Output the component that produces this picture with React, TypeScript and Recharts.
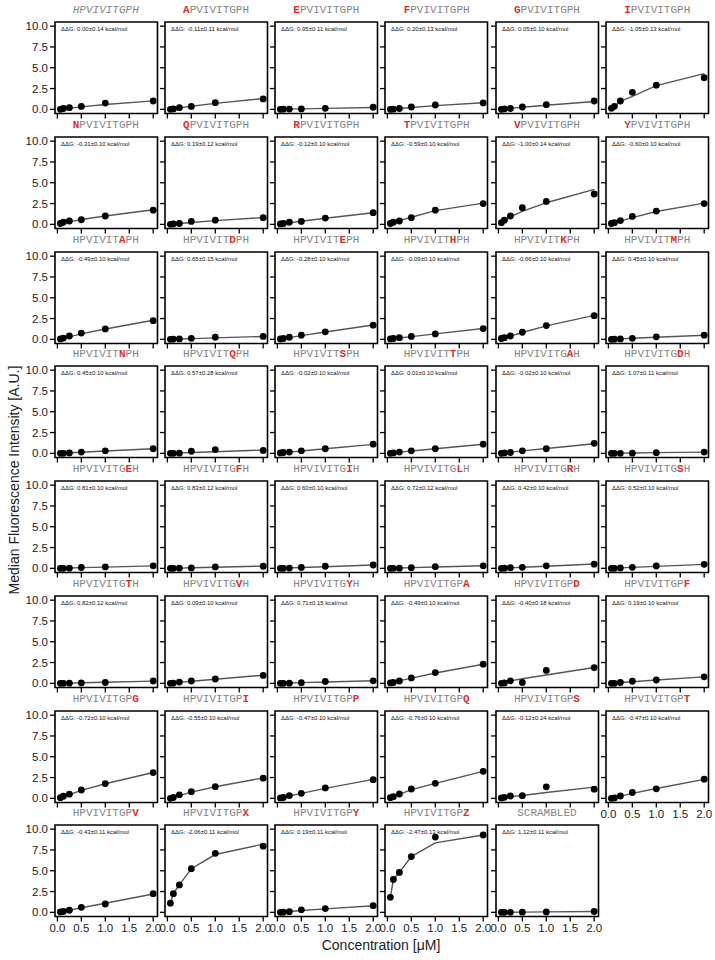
import React from 'react';
import { ComposedChart, Line, XAxis, YAxis, ReferenceArea } from 'recharts';

const concentrations = [0.0625, 0.125, 0.25, 0.5, 1, 2];
const xTicks = [0, 0.5, 1, 1.5, 2];
const yTicks = [0, 2.5, 5, 7.5, 10];

const sequences = [
  'HPVIVITGPH', 'APVIVITGPH', 'EPVIVITGPH', 'FPVIVITGPH', 'GPVIVITGPH', 'IPVIVITGPH',
  'NPVIVITGPH', 'QPVIVITGPH', 'RPVIVITGPH', 'TPVIVITGPH', 'VPVIVITGPH', 'YPVIVITGPH',
  'HPVIVITAPH', 'HPVIVITDPH', 'HPVIVITEPH', 'HPVIVITHPH', 'HPVIVITKPH', 'HPVIVITMPH',
  'HPVIVITNPH', 'HPVIVITQPH', 'HPVIVITSPH', 'HPVIVITTPH', 'HPVIVITGAH', 'HPVIVITGDH',
  'HPVIVITGEH', 'HPVIVITGFH', 'HPVIVITGIH', 'HPVIVITGLH', 'HPVIVITGRH', 'HPVIVITGSH',
  'HPVIVITGTH', 'HPVIVITGVH', 'HPVIVITGYH', 'HPVIVITGPA', 'HPVIVITGPD', 'HPVIVITGPF',
  'HPVIVITGPG', 'HPVIVITGPI', 'HPVIVITGPP', 'HPVIVITGPQ', 'HPVIVITGPS', 'HPVIVITGPT',
  'HPVIVITGPV', 'HPVIVITGPX', 'HPVIVITGPY', 'HPVIVITGPZ', 'SCRAMBLED',
];

const mutatedIndex = [
  -1, 0, 0, 0, 0, 0,
  0, 0, 0, 0, 0, 0,
  7, 7, 7, 7, 7, 7,
  7, 7, 7, 7, 8, 8,
  8, 8, 8, 8, 8, 8,
  8, 8, 8, 9, 9, 9,
  9, 9, 9, 9, 9, 9,
  9, 9, 9, 9, -1,
];

const ddG = [
  '0.00', '-0.11', '0.95', '0.20', '0.05', '-1.05',
  '-0.31', '0.19', '-0.12', '-0.59', '-1.00', '-0.60',
  '-0.49', '0.65', '-0.28', '-0.09', '-0.66', '0.45',
  '0.45', '0.57', '-0.02', '0.01', '-0.02', '1.07',
  '0.81', '0.83', '0.60', '0.72', '0.42', '0.52',
  '0.82', '0.09', '0.71', '-0.49', '-0.40', '0.19',
  '-0.72', '-0.55', '-0.47', '-0.76', '-0.12', '-0.47',
  '-0.43', '-2.06', '0.19', '-2.47', '1.12',
];

const ddGErr = [
  '0.14', '0.11', '0.11', '0.13', '0.10', '0.13',
  '0.10', '0.12', '0.10', '0.10', '0.14', '0.10',
  '0.10', '0.15', '0.10', '0.10', '0.10', '0.10',
  '0.10', '0.28', '0.10', '0.10', '0.10', '0.11',
  '0.10', '0.12', '0.10', '0.12', '0.10', '0.10',
  '0.12', '0.10', '0.15', '0.10', '0.18', '0.10',
  '0.10', '0.10', '0.10', '0.10', '0.24', '0.10',
  '0.11', '0.11', '0.11', '0.13', '0.11',
];

const measured = [
  [0.0, 0.1, 0.2, 0.35, 0.75, 1.0],
  [0.0, 0.05, 0.2, 0.35, 0.8, 1.25],
  [0.0, 0.02, 0.03, 0.05, 0.12, 0.25],
  [0.0, 0.02, 0.1, 0.28, 0.52, 0.77],
  [0.0, 0.05, 0.1, 0.28, 0.56, 1.0],
  [0.12, 0.36, 1.0, 2.05, 2.9, 3.8],
  [0.1, 0.25, 0.4, 0.55, 1.0, 1.7],
  [0.0, 0.05, 0.1, 0.35, 0.5, 0.8],
  [0.05, 0.1, 0.25, 0.35, 0.75, 1.4],
  [0.1, 0.25, 0.4, 0.8, 1.7, 2.5],
  [0.2, 0.5, 1.0, 2.0, 2.75, 3.65],
  [0.1, 0.2, 0.45, 0.95, 1.6, 2.5],
  [0.05, 0.15, 0.4, 0.75, 1.25, 2.25],
  [0.0, 0.03, 0.05, 0.12, 0.25, 0.35],
  [0.05, 0.1, 0.25, 0.5, 0.9, 1.7],
  [0.05, 0.1, 0.2, 0.35, 0.65, 1.3],
  [0.1, 0.2, 0.4, 0.85, 1.65, 2.85],
  [0.0, 0.02, 0.05, 0.12, 0.3, 0.5],
  [0.0, 0.0, 0.05, 0.15, 0.3, 0.55],
  [0.0, 0.0, 0.02, 0.25, 0.45, 0.35],
  [0.05, 0.1, 0.15, 0.3, 0.55, 1.1],
  [0.0, 0.05, 0.15, 0.3, 0.55, 1.1],
  [0.0, 0.05, 0.1, 0.3, 0.55, 1.2],
  [0.0, 0.0, 0.0, 0.02, 0.08, 0.15],
  [0.0, 0.0, 0.02, 0.1, 0.17, 0.3],
  [0.0, 0.0, 0.02, 0.05, 0.17, 0.25],
  [0.0, 0.0, 0.03, 0.1, 0.25, 0.4],
  [0.0, 0.0, 0.02, 0.08, 0.2, 0.3],
  [0.0, 0.02, 0.08, 0.12, 0.3, 0.5],
  [0.0, 0.0, 0.05, 0.12, 0.28, 0.48],
  [0.0, 0.0, 0.02, 0.05, 0.1, 0.28],
  [0.0, 0.03, 0.15, 0.28, 0.52, 0.95],
  [0.0, 0.0, 0.02, 0.08, 0.22, 0.3],
  [0.05, 0.1, 0.28, 0.65, 1.3, 2.3],
  [0.0, 0.05, 0.3, 0.1, 1.55, 1.9],
  [0.0, 0.0, 0.1, 0.25, 0.4, 0.78],
  [0.08, 0.25, 0.5, 1.0, 1.78, 3.1],
  [0.0, 0.1, 0.42, 0.8, 1.4, 2.42],
  [0.05, 0.1, 0.33, 0.6, 1.25, 2.25],
  [0.08, 0.2, 0.52, 1.12, 1.8, 3.25],
  [0.05, 0.12, 0.28, 0.32, 1.38, 1.1],
  [0.0, 0.05, 0.28, 0.7, 1.15, 2.3],
  [0.05, 0.1, 0.25, 0.6, 1.0, 2.25],
  [1.1, 2.25, 3.3, 5.25, 7.1, 7.95],
  [0.0, 0.02, 0.08, 0.3, 0.45, 0.8],
  [1.8, 3.95, 4.8, 6.7, 9.05, 9.3],
  [0.0, 0.0, 0.0, 0.02, 0.05, 0.1],
];

const fitted = [
  [0.03, 0.07, 0.14, 0.3, 0.58, 1.02],
  [0.05, 0.1, 0.18, 0.37, 0.72, 1.3],
  [0.01, 0.02, 0.03, 0.06, 0.12, 0.22],
  [0.02, 0.05, 0.1, 0.22, 0.45, 0.8],
  [0.03, 0.06, 0.12, 0.25, 0.5, 0.95],
  [0.12, 0.35, 0.95, 1.55, 2.85, 4.3],
  [0.06, 0.15, 0.3, 0.58, 1.0, 1.75],
  [0.02, 0.05, 0.1, 0.22, 0.45, 0.82],
  [0.04, 0.09, 0.18, 0.37, 0.73, 1.4],
  [0.1, 0.22, 0.45, 0.85, 1.65, 2.55],
  [0.15, 0.35, 0.9, 1.55, 2.6, 4.2],
  [0.08, 0.18, 0.38, 0.8, 1.55, 2.55],
  [0.07, 0.15, 0.3, 0.65, 1.25, 2.3],
  [0.01, 0.02, 0.04, 0.09, 0.18, 0.35],
  [0.05, 0.1, 0.2, 0.45, 0.88, 1.72],
  [0.04, 0.08, 0.16, 0.33, 0.66, 1.3],
  [0.08, 0.18, 0.38, 0.82, 1.62, 2.88],
  [0.02, 0.03, 0.06, 0.13, 0.26, 0.5],
  [0.02, 0.04, 0.07, 0.14, 0.28, 0.55],
  [0.01, 0.02, 0.05, 0.1, 0.2, 0.4],
  [0.03, 0.07, 0.14, 0.28, 0.56, 1.08],
  [0.03, 0.07, 0.14, 0.28, 0.56, 1.1],
  [0.03, 0.07, 0.14, 0.3, 0.58, 1.15],
  [0.0, 0.01, 0.02, 0.04, 0.08, 0.15],
  [0.01, 0.02, 0.04, 0.08, 0.15, 0.3],
  [0.01, 0.02, 0.03, 0.07, 0.14, 0.27],
  [0.01, 0.02, 0.05, 0.1, 0.2, 0.4],
  [0.01, 0.02, 0.04, 0.08, 0.16, 0.32],
  [0.02, 0.03, 0.06, 0.13, 0.26, 0.52],
  [0.01, 0.03, 0.06, 0.12, 0.24, 0.48],
  [0.01, 0.02, 0.03, 0.07, 0.14, 0.27],
  [0.03, 0.06, 0.12, 0.25, 0.5, 0.98],
  [0.01, 0.02, 0.04, 0.08, 0.16, 0.32],
  [0.07, 0.15, 0.3, 0.62, 1.25, 2.3],
  [0.15, 0.2, 0.3, 0.55, 1.0, 1.9],
  [0.02, 0.05, 0.1, 0.2, 0.4, 0.78],
  [0.1, 0.22, 0.45, 0.95, 1.75, 3.1],
  [0.07, 0.15, 0.32, 0.75, 1.4, 2.45],
  [0.07, 0.14, 0.28, 0.6, 1.2, 2.28],
  [0.1, 0.22, 0.48, 1.05, 1.8, 3.25],
  [0.08, 0.12, 0.2, 0.35, 0.7, 1.35],
  [0.06, 0.13, 0.27, 0.6, 1.18, 2.28],
  [0.06, 0.12, 0.27, 0.55, 1.1, 2.2],
  [1.1, 2.25, 3.3, 5.25, 6.95, 8.2],
  [0.02, 0.05, 0.1, 0.22, 0.42, 0.8],
  [1.8, 3.95, 4.8, 6.7, 8.35, 9.3],
  [0.0, 0.01, 0.01, 0.03, 0.05, 0.1],
];

const COLS = 6;
const BOX_W = 102.5;
const BOX_H = 91.5;
const ML = 44;
const MT = 4;
const MR = 4;
const MB = 26;
const X_DOMAIN = [-0.05, 2.09];
const Y_DOMAIN = [-0.5, 10.5];
const colLeft = (c: number) => 54.5 + 110.3 * c;
const rowTop = (r: number) => 22.3 + 114.7 * r;

const SANS = '"Liberation Sans", Arial, sans-serif';
const MONO = '"Courier New", "Liberation Mono", monospace';

const NoTick = () => <g />;

function Title({ i }: { i: number }) {
  const seq = sequences[i];
  const m = mutatedIndex[i];
  const c = i % COLS;
  const r = Math.floor(i / COLS);
  return (
    <div
      style={{
        position: 'absolute',
        left: colLeft(c),
        top: rowTop(r) - 19,
        width: BOX_W,
        height: 14,
        lineHeight: '14px',
        textAlign: 'center',
        fontFamily: MONO,
        fontSize: 11,
        color: '#858585',
        fontStyle: i === 0 ? 'italic' : 'normal',
        whiteSpace: 'nowrap',
      }}
    >
      {m < 0 ? (
        seq
      ) : (
        <>
          {seq.slice(0, m)}
          <span style={{ color: '#e0302c', fontWeight: 'bold' }}>{seq[m]}</span>
          {seq.slice(m + 1)}
        </>
      )}
    </div>
  );
}

function Panel({ i }: { i: number }) {
  const c = i % COLS;
  const r = Math.floor(i / COLS);
  const data = concentrations.map((x, k) => ({ x, obs: measured[i][k], fit: fitted[i][k] }));
  const showY = c === 0;
  const showX = i + COLS >= sequences.length;
  const W = ML + BOX_W + MR;
  const H = MT + BOX_H + MB;
  const anno = `ΔΔG: ${ddG[i]}±${ddGErr[i]} kcal/mol`;
  return (
    <div style={{ position: 'absolute', left: colLeft(c) - ML, top: rowTop(r) - MT }}>
      <ComposedChart width={W} height={H} data={data} margin={{ top: MT, right: MR, left: 0, bottom: 0 }}>
        <XAxis
          type="number"
          dataKey="x"
          domain={X_DOMAIN}
          ticks={xTicks}
          interval={0}
          height={MB}
          axisLine={false}
          tickSize={5}
          tickMargin={2}
          tickLine={{ stroke: '#000', strokeWidth: 1.3 }}
          tick={showX ? { fontSize: 11.5, fill: '#222' } : NoTick}
          tickFormatter={(v: number) => v.toFixed(1)}
        />
        <YAxis
          type="number"
          domain={Y_DOMAIN}
          ticks={yTicks}
          interval={0}
          width={ML}
          axisLine={false}
          tickSize={5}
          tickMargin={2}
          tickLine={{ stroke: '#000', strokeWidth: 1.3 }}
          tick={showY ? { fontSize: 11.5, fill: '#222' } : NoTick}
          tickFormatter={(v: number) => v.toFixed(1)}
        />
        <ReferenceArea
          x1={X_DOMAIN[0]}
          x2={X_DOMAIN[1]}
          y1={Y_DOMAIN[0]}
          y2={Y_DOMAIN[1]}
          fill="none"
          fillOpacity={0}
          stroke="#000"
          strokeWidth={1.6}
          ifOverflow="visible"
          label={(p: any) => {
            const vb = p.viewBox || { x: 0, y: 0 };
            return (
              <text x={vb.x + 6} y={vb.y + 8.6} fontSize={6} fill="#111" fontFamily={SANS}>
                {anno}
              </text>
            );
          }}
        />
        <Line
          type="linear"
          dataKey="fit"
          stroke="#555"
          strokeWidth={1.4}
          dot={false}
          activeDot={false}
          isAnimationActive={false}
        />
        <Line
          type="linear"
          dataKey="obs"
          stroke="none"
          dot={{ r: 3.4, fill: '#000', stroke: 'none' }}
          activeDot={false}
          isAnimationActive={false}
        />
      </ComposedChart>
    </div>
  );
}

export default function App() {
  return (
    <div
      style={{
        position: 'absolute',
        left: 0,
        top: 0,
        width: 715,
        height: 960,
        background: '#fff',
        fontFamily: SANS,
        overflow: 'hidden',
      }}
    >
      {sequences.map((_, i) => (
        <Panel key={`p${i}`} i={i} />
      ))}
      {sequences.map((_, i) => (
        <Title key={`t${i}`} i={i} />
      ))}
      <div
        style={{
          position: 'absolute',
          left: 14,
          top: 480,
          transform: 'translate(-50%, -50%) rotate(-90deg)',
          whiteSpace: 'nowrap',
          fontSize: 14,
          color: '#222',
          fontFamily: SANS,
        }}
      >
        Median Fluorescence Intensity [A.U.]
      </div>
      <div
        style={{
          position: 'absolute',
          left: 381,
          top: 945,
          transform: 'translate(-50%, -50%)',
          whiteSpace: 'nowrap',
          fontSize: 14,
          color: '#222',
          fontFamily: SANS,
        }}
      >
        Concentration [μM]
      </div>
    </div>
  );
}
